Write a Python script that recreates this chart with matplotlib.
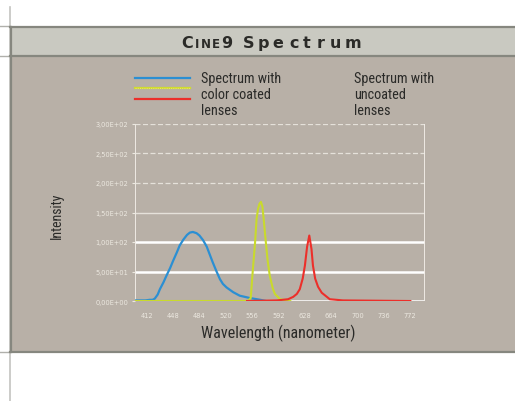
import matplotlib
matplotlib.use("Agg")
import matplotlib.pyplot as plt
from matplotlib.lines import Line2D
from matplotlib.patches import Rectangle
from matplotlib import font_manager

# ---------------- data ----------------
x_ticks = [412, 448, 484, 520, 556, 592, 628, 664, 700, 736, 772]
y_ticks = [0, 50, 100, 150, 200, 250, 300]
y_tick_labels = ["0,00E+00", "5,00E+01", "1,00E+02", "1,50E+02",
                 "2,00E+02", "2,50E+02", "3,00E+02"]

blue_nm = [396, 410, 416, 420, 423, 427, 430, 435, 439, 444, 448, 453, 457, 462,
           467, 471, 475, 480, 484, 489, 494, 498, 502, 507, 512, 516, 521, 530,
           539, 553, 567, 575]
blue_val = [1, 1, 2, 2, 4, 11, 20, 32, 43, 56, 68, 82, 94, 104,
            112, 116, 117, 115, 111, 103, 92, 79, 66, 51, 37, 29, 23, 15,
            9, 5, 2, 0]

yellow_nm = [396, 550, 554, 557, 560, 562, 564, 566, 568, 570, 572, 574,
             577, 580, 584, 587, 594, 608]
yellow_val = [0, 0, 5, 54, 100, 139, 156, 165, 168, 160, 135, 108,
              70, 43, 22, 12, 3, 0]

red_nm = [549, 590, 605, 612, 617, 621, 625, 628, 631, 634, 637, 639, 642,
          646, 651, 656, 662, 680, 772]
red_val = [0, 1, 3, 7, 12, 20, 38, 60, 92, 111, 88, 60, 38,
           24, 14, 9, 3, 1, 0]

legend_left = "Spectrum with\ncolor coated\nlenses"
legend_right = "Spectrum with\nuncoated\nlenses"

# ---------------- figure ----------------
W, H = 515, 402
fig = plt.figure(figsize=(W / 100, H / 100), dpi=100)
fig.patch.set_facecolor("white")

# look for a condensed sans face
names = {f.name for f in font_manager.fontManager.ttflist}
COND_NAME = None
for pref in ["Liberation Sans Narrow", "Roboto Condensed", "Open Sans Condensed", "Noto Sans Condensed",
             "DejaVu Sans Condensed"]:
    if pref in names:
        COND_NAME = pref
        break
if COND_NAME is None:
    NARROW = ["Roboto", "DejaVu Sans"]
    SCALE = 0.86
else:
    NARROW = [COND_NAME, "DejaVu Sans"]
    SCALE = 1.0

TXT = "#2a2a28"


def fx(px):
    return px / W


def fy(py):
    return 1 - py / H


# outer decorative lines
fig.add_artist(Line2D([fx(10), fx(10)], [fy(8), fy(402)], color="#c4c4c0", lw=1.2))
for yy in (27, 57, 352.5):
    fig.add_artist(Line2D([0, fx(10)], [fy(yy), fy(yy)], color="#b0b0ab", lw=1.0))

# title bar
fig.add_artist(Rectangle((fx(10), fy(57)), 1 - fx(10), fy(28) - fy(57),
                         transform=fig.transFigure, facecolor="#c9c9c1",
                         edgecolor="none", zorder=1))
# panel
fig.add_artist(Rectangle((fx(10), fy(353)), 1 - fx(10), fy(57) - fy(353),
                         transform=fig.transFigure, facecolor="#b8b0a7",
                         edgecolor="none", zorder=1))
# borders
for yy in (28, 57, 352.5):
    fig.add_artist(Line2D([fx(10), 1], [fy(yy), fy(yy)], color="#86877f", lw=1.6, zorder=2))
fig.add_artist(Line2D([fx(10.5), fx(10.5)], [fy(28), fy(353)], color="#86877f", lw=1.6, zorder=2))

# title in spaced small caps
title_chars = [("C", 181, 11.5), ("I", 194.5, 8.5), ("N", 200.5, 8.5), ("E", 211.5, 8.5),
               ("9", 221.5, 11.5), ("S", 242.5, 11.5), ("p", 257.5, 11.5), ("e", 272.5, 11.5),
               ("c", 289.5, 11.5), ("t", 303, 11.5), ("r", 316.5, 11.5), ("u", 329.5, 11.5),
               ("m", 344.5, 11.5)]
for ch, px, fs in title_chars:
    fig.text(fx(px), fy(48), ch, fontsize=fs, fontweight="bold", color="#2b2b28",
             ha="left", va="baseline", family=["DejaVu Sans"], zorder=3)

# legend
for yy, col in ((79, "#2b8fd3"), (89, "#cfdc2e"), (99.5, "#ec2f2a")):
    fig.add_artist(Line2D([fx(135), fx(190)], [fy(yy), fy(yy)], color=col, lw=1.6, zorder=3))
fig.add_artist(Line2D([fx(135), fx(190)], [fy(89), fy(89)], color="#e9e36a", lw=0.8,
                      ls=(0, (1, 1)), zorder=3))
fig.text(fx(201), fy(72), legend_left, fontsize=10.3 * SCALE, color=TXT, family=NARROW,
         ha="left", va="top", linespacing=1.2, zorder=3)
fig.text(fx(354), fy(72), legend_right, fontsize=10.3 * SCALE, color=TXT, family=NARROW,
         ha="left", va="top", linespacing=1.2, zorder=3)

# axes
ax = fig.add_axes([fx(135), fy(302), fx(425) - fx(135), fy(125) - fy(302)], zorder=4)
ax.set_facecolor("none")
ax.set_xlim(396, 792)
ax.set_ylim(0, 300)

for v in y_ticks:
    if v in (0, 50, 100):
        ax.axhline(v, color="white", lw=1.8, zorder=1)
    elif v == 150:
        ax.axhline(v, color="#eeeae4", lw=1.0, alpha=0.85, zorder=1)
    else:
        ax.axhline(v, color="#ebe7e0", lw=0.9, ls=(0, (4, 2)), alpha=0.9, zorder=1)

for s in ax.spines.values():
    s.set_visible(False)
ax.axvline(396, color="#f2eee8", lw=1.3, zorder=1)
ax.axvline(792, color="#f2eee8", lw=1.3, zorder=1)

ax.plot(blue_nm, blue_val, color="#2b8fd3", lw=1.6, zorder=3, solid_capstyle="round")
ax.plot(yellow_nm, yellow_val, color="#c9da2c", lw=1.5, zorder=4)
ax.plot(red_nm, red_val, color="#ec2f2a", lw=1.5, zorder=5)

ax.set_xticks(x_ticks)
ax.set_xticklabels([str(v) for v in x_ticks])
ax.set_yticks(y_ticks)
ax.set_yticklabels(y_tick_labels)
ax.tick_params(axis="both", colors="#ece8e0", labelsize=4.8, length=2, width=0.8)
ax.tick_params(axis="x", length=0, pad=8)
ax.tick_params(axis="y", pad=3)

fig.text(fx(57), fy(216), "Intensity", rotation=90, fontsize=10 * SCALE, color=TXT,
         family=NARROW, ha="center", va="center", zorder=3)
fig.text(fx(278), fy(333), "Wavelength (nanometer)", fontsize=11.5 * SCALE, color=TXT,
         family=NARROW, ha="center", va="center", zorder=3)

fig.savefig("out.png", dpi=100, facecolor="white")
